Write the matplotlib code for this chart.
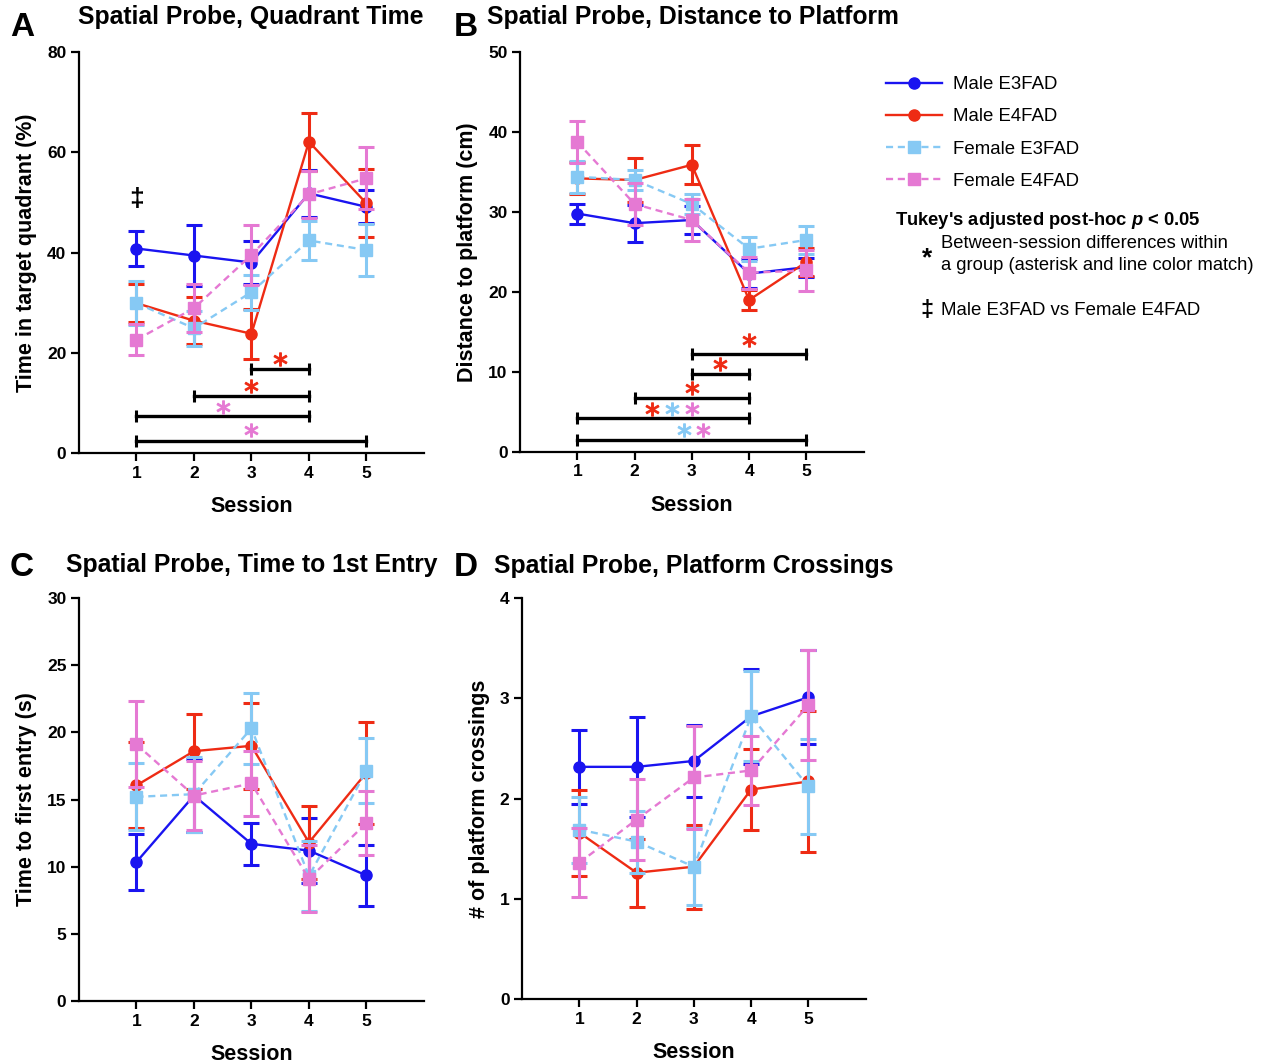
import matplotlib
matplotlib.use("Agg")
import matplotlib.pyplot as plt
from matplotlib.lines import Line2D

plt.rcParams['font.family'] = ['Liberation Sans', 'DejaVu Sans']
plt.rcParams['mathtext.fontset'] = 'custom'
plt.rcParams['mathtext.it'] = 'Liberation Sans:italic:bold'

sessions = [1, 2, 3, 4, 5]
groups = ["Male E3FAD", "Male E4FAD", "Female E3FAD", "Female E4FAD"]
colors = ["#1a14f0", "#ee2b14", "#86c9f4", "#e579d3"]
markers = ["o", "o", "s", "s"]
styles = ["-", "-", (0, (3, 2)), (0, (3, 2))]

# A: time in target quadrant (%)
quad_m3 = [40.8, 39.4, 38.0, 51.8, 49.1]
quad_m4 = [29.9, 26.4, 23.8, 62.1, 49.8]
quad_f3 = [29.9, 24.9, 32.1, 42.4, 40.5]
quad_f4 = [22.6, 28.9, 39.5, 51.6, 54.8]
quad_m3_sem = [3.4, 6.0, 4.2, 4.7, 3.3]
quad_m4_sem = [3.8, 4.7, 5.0, 5.8, 6.8]
quad_f3_sem = [4.4, 3.5, 3.5, 3.9, 5.2]
quad_f4_sem = [3.1, 4.8, 5.9, 4.7, 6.2]

# B: distance to platform (cm)
dist_m3 = [29.8, 28.6, 29.0, 22.3, 23.1]
dist_m4 = [34.2, 34.0, 35.9, 19.0, 23.75]
dist_f3 = [34.4, 34.0, 31.0, 25.4, 26.5]
dist_f4 = [38.75, 31.0, 29.0, 22.4, 22.7]
dist_m3_sem = [1.25, 2.3, 1.8, 1.8, 1.2]
dist_m4_sem = [2.0, 2.8, 2.45, 1.3, 1.8]
dist_f3_sem = [2.0, 1.2, 1.2, 1.5, 1.7]
dist_f4_sem = [2.6, 2.6, 2.6, 2.0, 2.55]

# C: time to first entry (s)
entry_m3 = [10.35, 15.3, 11.7, 11.2, 9.35]
entry_m4 = [16.05, 18.6, 19.0, 11.8, 17.0]
entry_f3 = [15.2, 15.4, 20.3, 9.3, 17.15]
entry_f4 = [19.1, 15.3, 16.2, 9.1, 13.25]
entry_m3_sem = [2.05, 2.7, 1.55, 2.4, 2.3]
entry_m4_sem = [3.2, 2.8, 3.2, 2.7, 3.8]
entry_f3_sem = [2.5, 2.8, 2.65, 2.6, 2.4]
entry_f4_sem = [3.2, 2.55, 2.4, 2.5, 2.35]

# D: platform crossings
cross_m3 = [2.316, 2.316, 2.375, 2.82, 3.01]
cross_m4 = [1.66, 1.26, 1.32, 2.09, 2.17]
cross_f3 = [1.69, 1.57, 1.32, 2.82, 2.12]
cross_f4 = [1.36, 1.79, 2.21, 2.28, 2.93]
cross_m3_sem = [0.37, 0.5, 0.355, 0.475, 0.47]
cross_m4_sem = [0.43, 0.34, 0.42, 0.4, 0.7]
cross_f3_sem = [0.33, 0.31, 0.385, 0.45, 0.47]
cross_f4_sem = [0.345, 0.4, 0.515, 0.34, 0.55]

# significance brackets: (from session, to session, y)
sig_bars_a = [(3, 4, 16.7), (2, 4, 11.4), (1, 4, 7.3), (1, 5, 2.5)]
sig_stars_a = [(3.5, 18.7, 1), (3.0, 13.3, 1), (2.5, 9.2, 3), (3.0, 4.6, 3)]
sig_bars_b = [(3, 5, 12.3), (3, 4, 9.8), (2, 4, 6.8), (1, 4, 4.3), (1, 5, 1.5)]
sig_stars_b = [(4.0, 14.0, 1), (3.5, 11.0, 1), (3.0, 8.0, 1),
               (2.3, 5.4, 1), (2.65, 5.4, 2), (3.0, 5.4, 3),
               (2.87, 2.7, 2), (3.2, 2.7, 3)]


def draw_panel(ax, means, sems, ymax, yticks, ylabel):
    for i, (m, s) in enumerate(zip(means, sems)):
        ax.errorbar(sessions, m, yerr=s, fmt="none", ecolor=colors[i],
                    elinewidth=2.2, capsize=6, capthick=2.2, zorder=3 + i)
        ax.plot(sessions, m, color=colors[i], marker=markers[i], ms=8,
                ls=styles[i], lw=1.7, zorder=3 + i)
    ax.set_xlim(0, 6)
    ax.set_ylim(0, ymax)
    ax.set_xticks(sessions)
    ax.set_yticks(yticks)
    for sp in ["top", "right"]:
        ax.spines[sp].set_visible(False)
    for sp in ["left", "bottom"]:
        ax.spines[sp].set_linewidth(1.6)
    ax.tick_params(width=1.6, length=6, labelsize=12.5, pad=3)
    for lab in ax.get_xticklabels() + ax.get_yticklabels():
        lab.set_fontweight("bold")
    ax.set_xlabel("Session", fontsize=15.5, fontweight="bold", labelpad=11)
    ax.set_ylabel(ylabel, fontsize=15.5, fontweight="bold", labelpad=7)


def draw_sig(ax, bars, stars):
    for x0, x1, y in bars:
        ax.plot([x0, x1], [y, y], color="black", lw=2.4, marker="|", ms=9,
                mew=2.2, zorder=2)
    for x, y, ci in stars:
        ax.plot(x, y, marker="$*$", ms=9.5, color=colors[ci], mew=0.9, zorder=2)


fig = plt.figure(figsize=(12.68, 10.63), dpi=100)
axA = fig.add_axes([0.0623, 0.5738, 0.272, 0.3773])
axB = fig.add_axes([0.4101, 0.5748, 0.271, 0.3763])
axC = fig.add_axes([0.0623, 0.0583, 0.272, 0.3791])
axD = fig.add_axes([0.4117, 0.0602, 0.271, 0.3772])

draw_panel(axA, [quad_m3, quad_m4, quad_f3, quad_f4],
           [quad_m3_sem, quad_m4_sem, quad_f3_sem, quad_f4_sem],
           80, [0, 20, 40, 60, 80], "Time in target quadrant (%)")
draw_sig(axA, sig_bars_a, sig_stars_a)
axA.text(1, 50.6, "\u2021", ha="center", va="center", fontsize=19, fontweight="bold")

draw_panel(axB, [dist_m3, dist_m4, dist_f3, dist_f4],
           [dist_m3_sem, dist_m4_sem, dist_f3_sem, dist_f4_sem],
           50, [0, 10, 20, 30, 40, 50], "Distance to platform (cm)")
draw_sig(axB, sig_bars_b, sig_stars_b)

draw_panel(axC, [entry_m3, entry_m4, entry_f3, entry_f4],
           [entry_m3_sem, entry_m4_sem, entry_f3_sem, entry_f4_sem],
           30, [0, 5, 10, 15, 20, 25, 30], "Time to first entry (s)")

draw_panel(axD, [cross_m3, cross_m4, cross_f3, cross_f4],
           [cross_m3_sem, cross_m4_sem, cross_f3_sem, cross_f4_sem],
           4, [0, 1, 2, 3, 4], "# of platform crossings")

# titles and panel letters
fig.text(78 / 1268, 1 - 17 / 1063, "Spatial Probe, Quadrant Time", fontsize=17.8,
         fontweight="bold", va="center")
fig.text(487 / 1268, 1 - 17 / 1063, "Spatial Probe, Distance to Platform", fontsize=17.8,
         fontweight="bold", va="center")
fig.text(66 / 1268, 1 - 565 / 1063, "Spatial Probe, Time to 1st Entry", fontsize=17.8,
         fontweight="bold", va="center")
fig.text(494 / 1268, 1 - 566 / 1063, "Spatial Probe, Platform Crossings", fontsize=17.8,
         fontweight="bold", va="center")
for letter, x, y in [("A", 22, 27), ("B", 466, 27), ("C", 22, 568), ("D", 466, 568)]:
    fig.text(x / 1268, 1 - y / 1063, letter, fontsize=24, fontweight="bold",
             ha="center", va="center")

# legend
handles = [Line2D([], [], color=colors[i], marker=markers[i], ms=8, ls=styles[i], lw=1.7)
           for i in range(4)]
fig.legend(handles, groups, loc="upper left", bbox_to_anchor=(886 / 1268, 1 - 76 / 1063),
           frameon=False, fontsize=13.4, handlelength=3, handletextpad=0.6,
           labelspacing=0.82, borderpad=0, borderaxespad=0)

fig.text(895 / 1268, 1 - 221 / 1063, "Tukey's adjusted post-hoc $p$ < 0.05",
         fontsize=13.2, fontweight="bold", va="center")
fig.text(927 / 1268, 1 - 258 / 1063, "*", fontsize=19, fontweight="bold",
         ha="center", va="center")
fig.text(941 / 1268, 1 - 243 / 1063, "Between-session differences within",
         fontsize=13.2, va="center")
fig.text(941 / 1268, 1 - 266 / 1063, "a group (asterisk and line color match)",
         fontsize=13.2, va="center")
fig.text(927 / 1268, 1 - 310 / 1063, "\u2021", fontsize=17, fontweight="bold",
         ha="center", va="center")
fig.text(941 / 1268, 1 - 310 / 1063, "Male E3FAD vs Female E4FAD",
         fontsize=13.4, va="center")

fig.savefig("out.png", dpi=100)
